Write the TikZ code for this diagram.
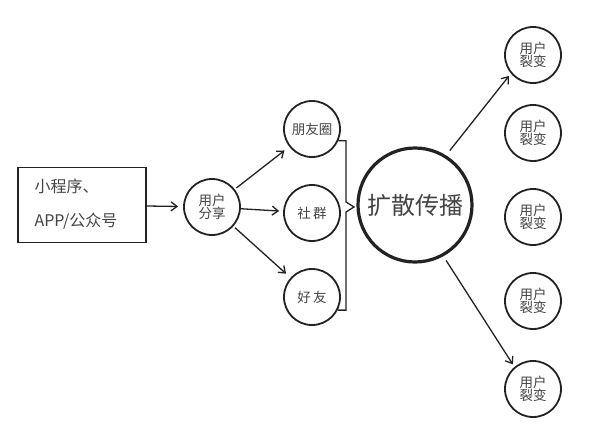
\documentclass[tikz,border=0pt]{standalone}
\usepackage{fontspec}
\setmainfont{Noto Sans CJK SC}
\usetikzlibrary{arrows.meta}
\usetikzlibrary{positioning}
\definecolor{fg}{HTML}{222222}
\definecolor{txt}{HTML}{444444}
\tikzstyle{box}=[draw=fg, line width=1.5pt, minimum width=128pt, minimum height=75pt,
anchor=center, inner sep=0pt]
\tikzstyle{circ}=[draw=fg, circle, line width=1.8pt, minimum size=56pt, inner sep=0pt,
align=center, text=txt, font=\fontsize{13.5}{13.5}\selectfont]
\tikzstyle{bigcirc}=[draw=fg, circle, line width=3.2pt, minimum size=114pt, inner sep=0pt,
text=txt, font=\fontsize{24}{26}\selectfont]
\tikzstyle{myarrow}=[-{Straight Barb[length=6pt,width=9pt]}, line width=1.3pt, draw=fg]

\begin{document}
\begin{tikzpicture}[x=1pt, y=-1pt]
    \useasboundingbox (0, 0) rectangle (599, 437) ;

    \node[box] (src) at (82, 205) {} ;
    \node[anchor=west, text=txt, font=\fontsize{16}{16}\selectfont] (src1) at (31, 186) {小程序、} ;
    \node[anchor=west, text=txt, font=\fontsize{16}{16}\selectfont] (src2) at (31, 221) {APP/公众号} ;

    \node[circ] (share) at (212, 207) {用户\\分享} ;
    \node[circ] (pyq) at (312, 129) {朋友圈} ;
    \node[circ] (sq) at (312, 213) {社\,群} ;
    \node[circ] (hy) at (312, 297) {好\,友} ;
    \node[bigcirc] (spread) at (415, 205) {扩散传播} ;

    \node[circ] (f1) at (533, 55) {用户\\裂变} ;
    \node[circ] (f2) at (533, 133) {用户\\裂变} ;
    \node[circ] (f3) at (533, 217) {用户\\裂变} ;
    \node[circ] (f4) at (533, 301) {用户\\裂变} ;
    \node[circ] (f5) at (533, 389) {用户\\裂变} ;

    \coordinate (tip) at (354, 207) ;

    \draw[myarrow, shorten >=5pt] (src) -- (share) ;
    \draw[myarrow, shorten <=2pt, shorten >=6pt] (share) -- (pyq) ;
    \draw[myarrow, shorten >=4pt] (share) -- (sq) ;
    \draw[myarrow, shorten <=2pt, shorten >=6pt] (share) -- (hy) ;
    \draw[line width=1.3pt, draw=fg] (pyq.-24) -| (346, 202) -- (tip) -- (346, 212) |- (hy.-27) ;
    \draw[myarrow, shorten <=6pt, shorten >=3pt] (spread.58) -- (f1.220) ;
    \draw[myarrow, shorten <=5pt, shorten >=3pt] (spread.-61) -- (f5.130) ;
\end{tikzpicture}
\end{document}
